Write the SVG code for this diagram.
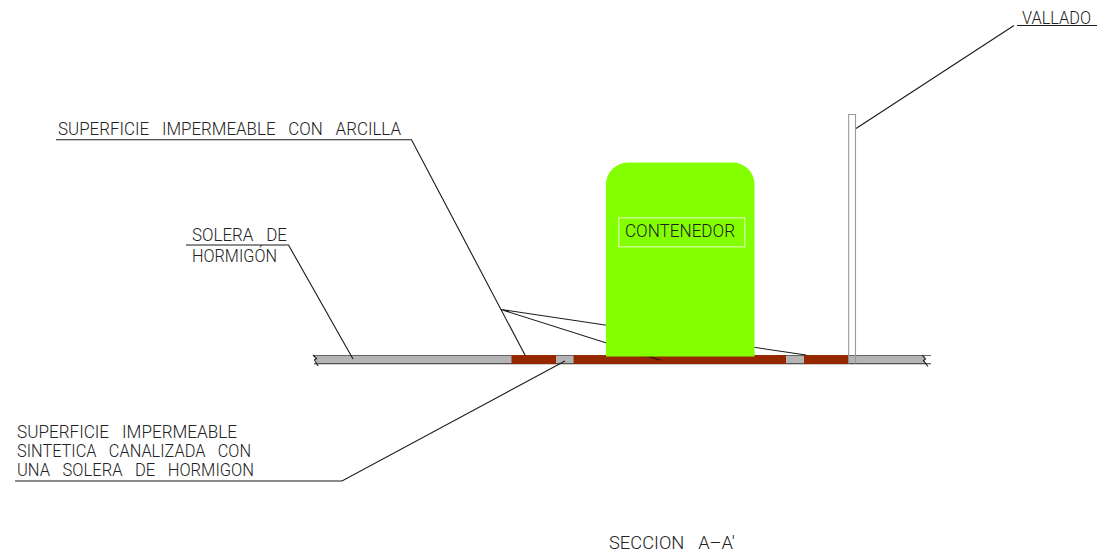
<svg xmlns="http://www.w3.org/2000/svg" width="1097" height="556" viewBox="0 0 1097 556">
<style>
.t{font-family:Roboto,"Liberation Sans",Arial,sans-serif;font-weight:300;font-size:17.500px;fill:#222;stroke:none}
.l{fill:none;stroke:#1a1a1a;stroke-width:1.1}
.g{fill:none;stroke:#999;stroke-width:1.1}
</style>
<rect width="1097" height="556" fill="#fff"/>
<g id="solera">
<rect x="316" y="356" width="609" height="8" fill="#b4b4b4"/>
<path d="M314 355.500H931" fill="none" stroke="#666" stroke-width="1.200"/>
<path d="M314 363.700H931" fill="none" stroke="#333" stroke-width="1.100"/>
<path class="l" d="M313 355L316.500 358.500L314.500 360L318 366M922 355L925.500 359L923.500 360.500L928 366.500"/>
</g>
<g id="arcilla">
<rect x="511.500" y="355" width="44.500" height="9" fill="#962800"/>
<rect x="573.500" y="355" width="212.500" height="9" fill="#962800"/>
<rect x="804" y="355" width="44.500" height="9" fill="#962800"/>
</g>
<g id="connectors">
<path class="l" d="M56 139.800H411.500L525 355"/>
<path class="l" d="M186 245H288.500L353 359"/>
<path class="l" d="M15 481H342L565 361"/>
<path class="l" d="M1017 25.500H1097M1014 25.500L856 128.500"/>
<path class="l" d="M806 355L501 309.500L660 360"/>
</g>
<g id="contenedor">
<path d="M606 356.500V184A22 22 0 0 1 628 162.500H732A22 22 0 0 1 754.500 184V356.500Z" fill="#84ff00"/>
<rect x="618.800" y="217.800" width="126" height="29" fill="none" stroke="#e2ffc0" stroke-width="1.100"/>
<text class="t" x="625" y="237.300" style="font-size:18.500px" textLength="110" lengthAdjust="spacingAndGlyphs">CONTENEDOR</text>
</g>
<g id="vallado">
<path class="g" d="M848.700 363.500V114.500H855.500V363.500"/>
<text class="t" x="1022" y="24" textLength="69" lengthAdjust="spacingAndGlyphs">VALLADO</text>
</g>
<g id="lbl-arcilla"><text class="t" x="58" y="135" word-spacing="9" textLength="343" lengthAdjust="spacingAndGlyphs">SUPERFICIE IMPERMEABLE CON ARCILLA</text></g>
<g id="lbl-solera">
<text class="t" x="192" y="240.500" word-spacing="9" textLength="95" lengthAdjust="spacingAndGlyphs">SOLERA DE</text>
<text class="t" x="192" y="262" textLength="85" lengthAdjust="spacingAndGlyphs">HORMIGÓN</text>
</g>
<g id="lbl-sintetica">
<text class="t" x="17" y="438" word-spacing="9" textLength="220" lengthAdjust="spacingAndGlyphs">SUPERFICIE IMPERMEABLE</text>
<text class="t" x="17" y="457" word-spacing="9" textLength="234" lengthAdjust="spacingAndGlyphs">SINTETICA CANALIZADA CON</text>
<text class="t" x="17" y="476" word-spacing="9" textLength="237" lengthAdjust="spacingAndGlyphs">UNA SOLERA DE HORMIGON</text>
</g>
<g id="titulo"><text class="t" x="609" y="549" word-spacing="9" textLength="126" lengthAdjust="spacingAndGlyphs">SECCION A–A'</text></g>
</svg>
